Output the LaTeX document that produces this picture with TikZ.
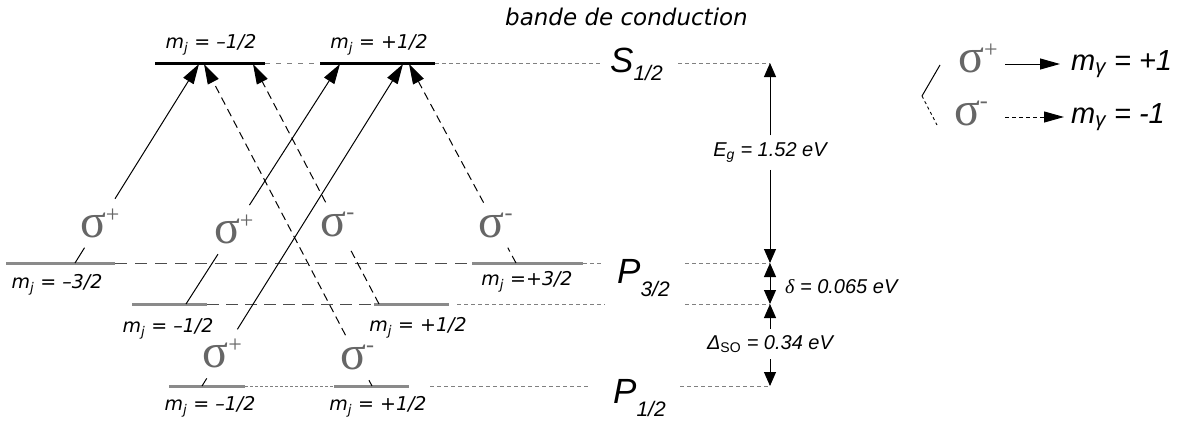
\documentclass[tikz,border=0pt]{standalone}
\usepackage{fontspec}
\setmainfont{Liberation Sans}
\newfontfamily\comic{DejaVu Sans}
\newfontfamily\serif{Liberation Serif}
\usetikzlibrary{arrows.meta}
\definecolor{lvgray}{HTML}{8A8A8A}
\definecolor{siggray}{HTML}{666666}
\definecolor{dotgray}{HTML}{808080}
\newcommand{\sigp}{σ\raisebox{15pt}{\fontsize{24}{24}\selectfont +}}
\newcommand{\sigm}{σ\raisebox{17pt}{\fontsize{24}{24}\selectfont -}}
\newcommand{\mj}[1]{m\textsubscript{j} #1}
\begin{document}
\begin{tikzpicture}[x=1pt,y=-1pt,
  cb/.style={line width=3pt, black},
  vb/.style={line width=3pt, lvgray},
  dlink/.style={line width=0.8pt, dotgray, dash pattern=on 4pt off 3pt},
  dtop/.style={line width=1pt, dotgray, dash pattern=on 5pt off 6pt},
  dfine/.style={line width=0.8pt, dotgray, dash pattern=on 3pt off 2pt},
  dlong/.style={line width=0.9pt, black!70, dash pattern=on 12pt off 8pt},
  trs/.style={line width=1pt},
  trd/.style={line width=1pt, dash pattern=on 8pt off 5pt},
  tip/.style={-{Triangle[length=20pt,width=12pt]}},
  sig/.style={inner sep=0pt, outer xsep=2pt, outer ysep=10pt, text=siggray, font=\serif\fontsize{48}{48}\selectfont},
  mlab/.style={font=\comic\itshape\fontsize{19}{19}\selectfont, inner sep=0pt, anchor=base},
  big/.style={font=\itshape\fontsize{35}{35}\selectfont, inner sep=0pt, anchor=base west},
  val/.style={font=\itshape\fontsize{20}{20}\selectfont, fill=white, inner sep=2pt},
  va/.style={line width=1pt, -{Triangle[length=14pt,width=12pt]}},
  vab/.style={line width=1pt, {Triangle[length=14pt,width=12pt]}-{Triangle[length=14pt,width=12pt]}}
]
\useasboundingbox (0,0) rectangle (1192,423);
\fill[white] (0,0) rectangle (1192,423);

% ---------- title
\node[font=\comic\itshape\fontsize{23}{23}\selectfont, inner sep=0pt, anchor=base west] (title) at (505,25) {bande de conduction};

% ---------- conduction band levels
\coordinate (tl1) at (155,63); \coordinate (tl2) at (265,63);
\coordinate (tr1) at (320,63); \coordinate (tr2) at (435,63);
\draw[cb] (tl1) -- (tl2);
\draw[cb] (tr1) -- (tr2);
\draw[dtop] (tl2) -- (tr1);
\node[mlab] (mt1) at (211,48) {\mj{= –1/2}};
\node[mlab] (mt2) at (379,48) {\mj{= +1/2}};

% ---------- valence levels
\coordinate (hh1) at (6,263);   \coordinate (hh2) at (115,263);
\coordinate (hh3) at (472,263); \coordinate (hh4) at (583,263);
\coordinate (lh1) at (132,304); \coordinate (lh2) at (207,304);
\coordinate (lh3) at (374,304); \coordinate (lh4) at (449,304);
\coordinate (so1) at (169,386); \coordinate (so2) at (245,386);
\coordinate (so3) at (334,386); \coordinate (so4) at (409,386);
\draw[dlong] (hh2) -- (hh3);
\draw[dlong, dash pattern=on 12pt off 7pt] (lh2) -- (lh3);
\draw[dfine] (so2) -- (so3);
\draw[vb] (hh1) -- (hh2);
\draw[vb] (hh3) -- (hh4);
\draw[vb] (lh1) -- (lh2);
\draw[vb] (lh3) -- (lh4);
\draw[vb] (so1) -- (so2);
\draw[vb] (so3) -- (so4);
\node[mlab] (mh1) at (57,288) {\mj{= –3/2}};
\node[mlab] (mh2) at (527,285) {\mj{=+3/2}};
\node[mlab] (ml1) at (168,332) {\mj{= –1/2}};
\node[mlab] (ml2) at (418,331) {\mj{= +1/2}};
\node[mlab] (ms1) at (210,410) {\mj{= –1/2}};
\node[mlab] (ms2) at (378,410) {\mj{= +1/2}};

% ---------- right-hand dotted guides
\coordinate (g1a) at (435,63);  \coordinate (g1b) at (602,63);
\coordinate (g1c) at (678,63);  \coordinate (g1d) at (770,63);
\coordinate (g2a) at (583,263); \coordinate (g2b) at (602,263);
\coordinate (g2c) at (685,263); \coordinate (g2d) at (770,263);
\coordinate (g3a) at (457,304); \coordinate (g3b) at (605,304);
\coordinate (g3c) at (685,304); \coordinate (g3d) at (770,304);
\coordinate (g4a) at (430,386); \coordinate (g4b) at (590,386);
\coordinate (g4c) at (680,386); \coordinate (g4d) at (770,386);
\draw[dlink] (g1a) -- (g1b); \draw[dlink] (g1c) -- (g1d);
\draw[dlink] (g2a) -- (g2b); \draw[dlink] (g2c) -- (g2d);
\draw[dlink] (g3a) -- (g3b); \draw[dlink] (g3c) -- (g3d);
\draw[dlink] (g4a) -- (g4b); \draw[dlink] (g4c) -- (g4d);

\node[big] (S) at (610,72) {S\raisebox{-8pt}{\fontsize{21}{21}\selectfont 1/2}};
\node[big] (P3) at (617,283) {P\raisebox{-13pt}{\fontsize{21}{21}\selectfont 3/2}};
\node[big] (P1) at (613,403) {P\raisebox{-13pt}{\fontsize{21}{21}\selectfont 1/2}};

% ---------- energy arrows
\path (g1d) -- (g2d) node[val, pos=0.448, minimum height=34pt] (eg) {E\textsubscript{g} = 1.52 eV};
\draw[va] (eg) -- (g1d);
\draw[va] (eg) -- (g2d);
\draw[vab] (g2d) -- (g3d);
\node[font=\itshape\fontsize{20}{20}\selectfont, inner sep=0pt, anchor=west] (dl) at (785,287) {{\serif δ} = 0.065 eV};
\path (g3d) -- (g4d) node[val, pos=0.49, minimum height=30pt] (dso) {Δ\textsubscript{\upshape SO} = 0.34 eV};
\draw[va] (dso) -- (g3d);
\draw[va] (dso) -- (g4d);

% ---------- transitions
\coordinate (a1s) at (75,263);  \coordinate (a1e) at (199,64);
\coordinate (a4s) at (186,304); \coordinate (a4e) at (340,64);
\coordinate (a5s) at (202,386); \coordinate (a5e) at (403,64);
\coordinate (a2s) at (372,386); \coordinate (a2e) at (204,64);
\coordinate (a3s) at (379,304); \coordinate (a3e) at (253,64);
\coordinate (a6s) at (516,263); \coordinate (a6e) at (409,64);

\path (a1s) -- (a1e) node[sig, pos=0.2] (s1) {\sigp};
\path (a4s) -- (a4e) node[sig, pos=0.31] (s4) {\sigp};
\path (a5s) -- (a5e) node[sig, pos=0.1] (s5) {\sigp};
\path (a2s) -- (a2e) node[sig, pos=0.088] (s2) {\sigm};
\path (a3s) -- (a3e) node[sig, pos=0.33] (s3) {\sigm};
\path (a6s) -- (a6e) node[sig, pos=0.19] (s6) {\sigm};

\draw[trs] (a1s) -- (s1); \draw[trs, tip] (s1) -- (a1e);
\draw[trs] (a4s) -- (s4); \draw[trs, tip] (s4) -- (a4e);
\draw[trs] (a5s) -- (s5); \draw[trs, tip] (s5) -- (a5e);
\draw[trd] (a2s) -- (s2); \draw[trd, tip] (s2) -- (a2e);
\draw[trd] (a3s) -- (s3); \draw[trd, tip] (s3) -- (a3e);
\draw[trd] (a6s) -- (s6); \draw[trd, tip] (s6) -- (a6e);

% ---------- legend
\coordinate (k1) at (940,65); \coordinate (k2) at (922,96); \coordinate (k3) at (937,125);
\draw[line width=1pt] (k1) -- (k2);
\draw[line width=0.9pt, dash pattern=on 3pt off 3pt] (k2) -- (k3);
\node[sig, outer sep=0pt, anchor=center] (lsp) at (978,58) {\sigp};
\node[sig, outer sep=0pt, anchor=center] (lsm) at (971,113) {\sigm};
\coordinate (l1a) at (1005,64); \coordinate (l1b) at (1060,64);
\coordinate (l2a) at (1005,117); \coordinate (l2b) at (1064,117);
\draw[line width=1pt, -{Triangle[length=20pt,width=11pt]}] (l1a) -- (l1b);
\draw[line width=1pt, dash pattern=on 4pt off 3pt, -{Triangle[length=20pt,width=11pt]}] (l2a) -- (l2b);
\node[font=\itshape\fontsize{29}{29}\selectfont, inner sep=0pt, anchor=west] (mg1) at (1071,64) {m\textsubscript{γ} = +1};
\node[font=\itshape\fontsize{29}{29}\selectfont, inner sep=0pt, anchor=west] (mg2) at (1071,117) {m\textsubscript{γ} = -1};
\end{tikzpicture}
\end{document}
